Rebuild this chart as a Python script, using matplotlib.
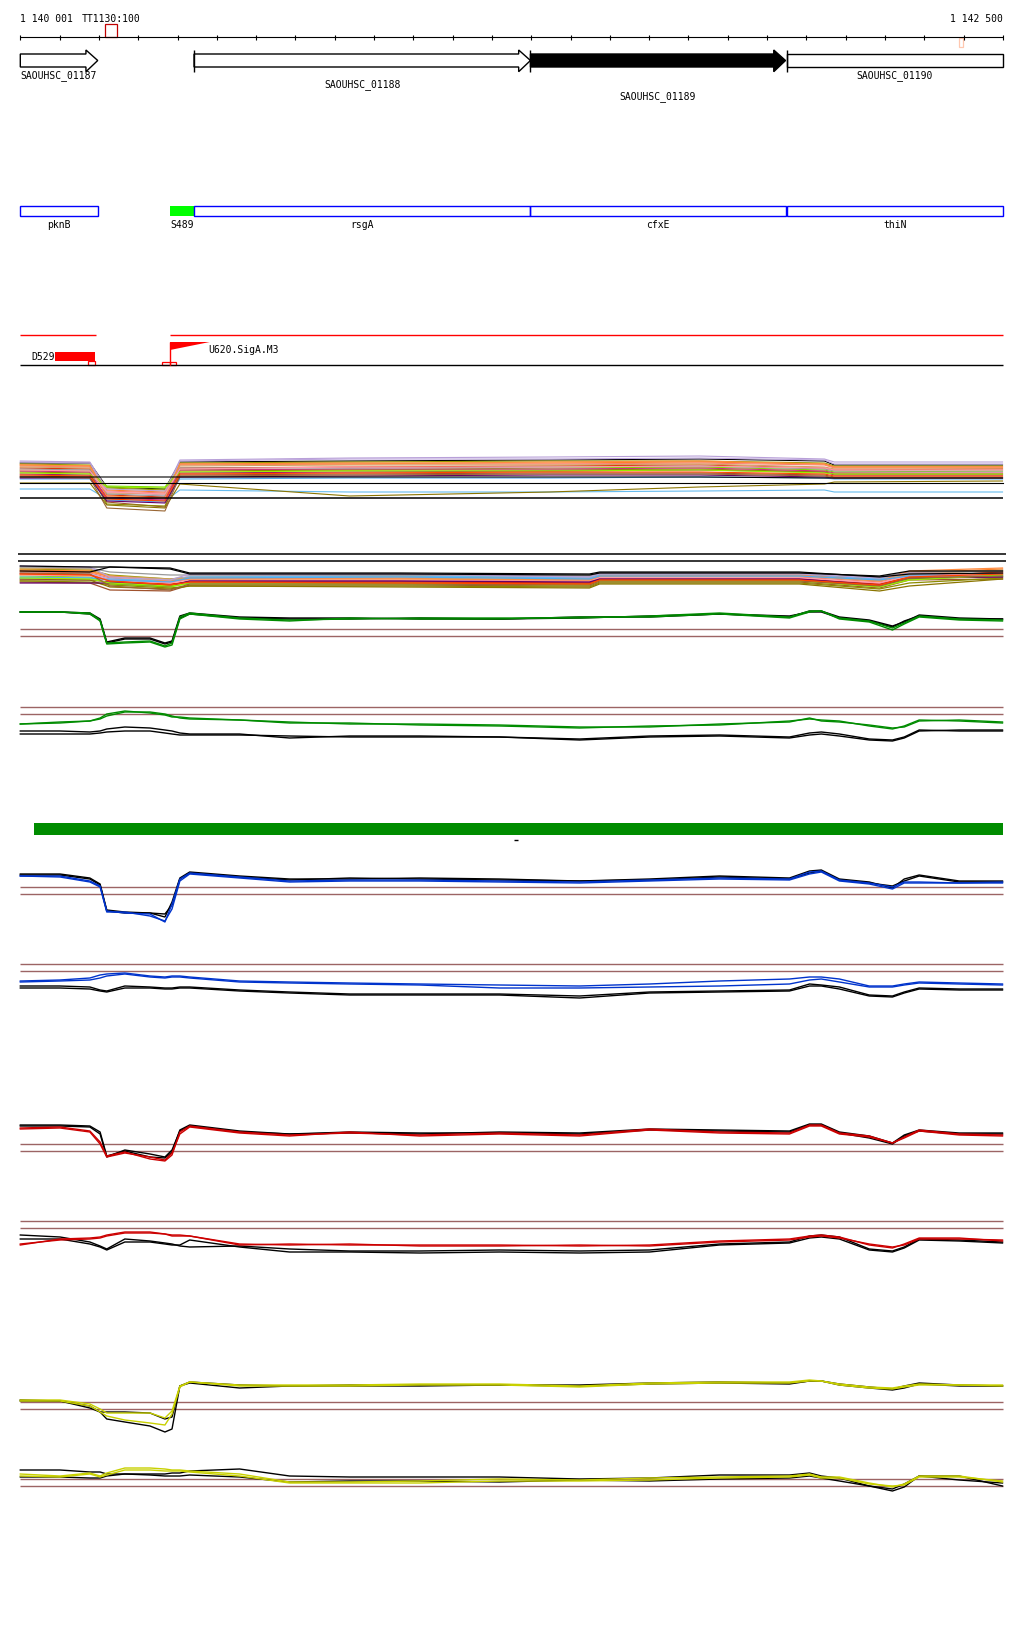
import numpy as np
import matplotlib
matplotlib.use("Agg")
import matplotlib.pyplot as plt
from matplotlib.patches import Polygon, Rectangle

# ---- region shown -------------------------------------------------------
view_start, view_end = 1140001, 1142500
tick_step = 100

# ---- genes (top track) --------------------------------------------------
gene_names = ["SAOUHSC_01187", "SAOUHSC_01188", "SAOUHSC_01189", "SAOUHSC_01190"]
gene_starts = [1140001, 1140443, 1141299, 1141952]
gene_ends = [1140198, 1141299, 1141948, 1142500]
gene_arrow = [True, True, True, False]

# ---- annotated features -------------------------------------------------
feat_names = ["pknB", "S489", "rsgA", "cfxE", "thiN"]
feat_starts = [1140001, 1140382, 1140443, 1141299, 1141952]
feat_ends = [1140198, 1140443, 1141299, 1141948, 1142500]

# ---- promoters / terminators --------------------------------------------
red_segments = [(1140001, 1140194), (1140382, 1142500)]
term_name, term_start, term_end = "D529", 1140089, 1140191
prom_name, prom_pos, prom_end = "U620.SigA.M3", 1140382, 1140483
tt_name, tt_marker = "TT1130:100", (1140217, 1140246)
end_marker = (1142389, 1142399)

# ---- many-sample tracks (A, B) -----------------------------------------
a_pos = [1140001, 1140178, 1140221, 1140369, 1140407, 1140839, 1141348, 1141729, 1142047, 1142072, 1142500]
a_vals = [
    [51, 51, 27, 25, 52, 53, 54, 55, 53, 49, 49],
    [50, 49, 26, 24, 51, 52, 53, 53, 51, 48, 48],
    [49, 48, 24, 22, 50, 51, 51, 52, 50, 47, 47],
    [48, 47, 23, 21, 49, 50, 50, 51, 49, 46, 46],
    [52, 51, 22, 19, 53, 55, 55, 56, 54, 50, 50],
    [40, 39, 17, 15, 41, 42, 43, 44, 42, 39, 39],
    [44, 43, 28, 27, 45, 44, 46, 47, 44, 42, 43],
    [38, 37, 12, 7, 39, 40, 41, 41, 39, 37, 37],
    [25, 25, 15, 13, 24, 22, 22, 23, 24, 22, 22],
    [46, 45, 19, 17, 46, 47, 48, 49, 46, 44, 45],
    [47, 46, 21, 20, 48, 49, 49, 50, 47, 45, 45],
    [42, 41, 10, 8, 43, 44, 44, 45, 42, 40, 40],
    [43, 42, 16, 14, 44, 45, 45, 46, 43, 41, 41],
    [45, 44, 20, 18, 46, 46, 47, 48, 45, 43, 43],
    [49, 48, 18, 16, 50, 50, 52, 53, 50, 47, 47],
    [35, 35, 14, 12, 35, 36, 36, 37, 36, 35, 35],
    [31, 31, 9, 6, 30, 18, 22, 27, 30, 32, 33],
    [53, 52, 25, 23, 54, 56, 57, 58, 55, 52, 52],
    [36, 36, 13, 11, 37, 38, 39, 39, 37, 36, 36],
    [41, 40, 27, 26, 42, 43, 43, 44, 41, 40, 40],
    [37, 36, 6, 3, 38, 39, 40, 40, 38, 36, 36],
    [39, 38, 15, 13, 40, 41, 42, 42, 40, 38, 38],
    [44, 43, 22, 20, 45, 47, 47, 48, 46, 44, 44],
    [37, 37, 37, 37, 37, 37, 37, 37, 36, 36, 36],
    [31, 31, 31, 31, 31, 31, 31, 31, 31, 31, 31],
]
a_baseline = 15.7

b_pos = [1140001, 1140178, 1140229, 1140382, 1140432, 1140966, 1141449, 1141475, 1141983, 1142187, 1142263, 1142500]
b_vals = [
    [30, 29, 24, 20, 22, 23, 21, 25, 25, 20, 27, 28],
    [29, 28, 22, 19, 21, 22, 20, 24, 24, 19, 26, 30],
    [27, 26, 21, 17, 20, 21, 18, 22, 22, 17, 24, 26],
    [26, 25, 20, 18, 23, 24, 22, 26, 26, 21, 25, 24],
    [20, 19, 17, 14, 18, 18, 16, 20, 20, 15, 22, 22],
    [23, 22, 15, 12, 16, 16, 15, 19, 19, 13, 20, 23],
    [17, 16, 9, 8, 14, 14, 13, 17, 17, 11, 19, 20],
    [22, 21, 20, 18, 22, 23, 21, 24, 24, 20, 24, 25],
    [25, 24, 18, 15, 17, 17, 16, 20, 20, 15, 22, 27],
    [31, 30, 23, 20, 21, 21, 19, 23, 23, 18, 25, 29],
    [18, 17, 14, 11, 13, 13, 12, 16, 16, 10, 16, 21],
    [24, 23, 19, 16, 19, 19, 18, 21, 21, 16, 23, 26],
    [32, 31, 27, 24, 24, 24, 23, 26, 26, 22, 27, 28],
    [28, 27, 23, 18, 20, 20, 19, 23, 24, 18, 28, 31],
    [21, 21, 19, 17, 21, 22, 20, 23, 23, 19, 23, 23],
    [19, 19, 12, 10, 13, 12, 11, 15, 15, 8, 13, 20],
    [33, 32, 22, 19, 25, 25, 22, 25, 25, 21, 26, 25],
    [16, 16, 16, 13, 18, 18, 17, 20, 20, 14, 21, 22],
    [21, 20, 16, 13, 15, 15, 14, 18, 18, 12, 19, 24],
    [26, 25, 13, 9, 15, 15, 14, 18, 18, 13, 21, 23],
    [25, 24, 18, 14, 17, 16, 15, 19, 19, 14, 22, 25],
    [33, 32, 32, 30, 25, 25, 24, 26, 26, 23, 28, 28],
    [28, 27, 32, 31, 26, 26, 25, 27, 27, 22, 25, 26],
]
b_refs = [45, 37.7]

# ---- replicate tracks (C..J), sampled at pos ----------------------------
pos = [1140001, 1140102, 1140178, 1140204, 1140221, 1140267, 1140331, 1140369, 1140387, 1140407,
       1140432, 1140559, 1140686, 1140839, 1141017, 1141220, 1141424, 1141602, 1141780, 1141958,
       1142009, 1142039, 1142085, 1142161, 1142220, 1142250, 1142288, 1142390, 1142500]

c_green1 = [37, 37, 36, 29, 6, 7, 8, 3, 6, 32, 36, 31, 29, 30, 31, 31, 31, 33, 36, 32, 38, 38, 31, 28, 21, 26, 33, 30, 29]
c_green2 = [37, 37, 35, 28, 5, 6, 7, 2, 4, 30, 35, 30, 28, 31, 30, 30, 32, 32, 35, 31, 37, 38, 30, 27, 19, 25, 32, 29, 28]
c_black1 = [37, 37, 36, 30, 7, 11, 11, 6, 8, 33, 36, 32, 31, 31, 30, 30, 31, 33, 35, 32, 38, 38, 32, 29, 23, 27, 34, 31, 30]
c_black2 = [37, 37, 35, 29, 6, 10, 10, 5, 7, 31, 35, 31, 30, 30, 31, 30, 32, 32, 35, 33, 37, 37, 31, 28, 22, 28, 33, 30, 30]

d_green1 = [25, 27, 28, 31, 35, 38, 36, 34, 32, 32, 31, 29, 26, 26, 24, 23, 21, 23, 24, 28, 30, 29, 28, 23, 20, 23, 29, 28, 26]
d_green2 = [25, 26, 28, 30, 33, 37, 37, 35, 33, 31, 30, 29, 27, 25, 25, 24, 22, 22, 25, 27, 31, 28, 27, 24, 21, 22, 28, 29, 27]
d_black1 = [18, 18, 17, 18, 20, 22, 21, 19, 18, 16, 15, 15, 11, 13, 13, 12, 10, 13, 14, 12, 16, 17, 15, 10, 9, 12, 19, 18, 18]
d_black2 = [15, 15, 15, 16, 17, 18, 18, 16, 15, 14, 14, 14, 13, 12, 12, 12, 9, 12, 13, 11, 14, 15, 13, 9, 8, 11, 18, 19, 19]

e_blue1 = [53, 53, 48, 43, 18, 16, 15, 7, 25, 50, 56, 52, 48, 49, 49, 48, 47, 49, 51, 50, 57, 58, 49, 46, 42, 47, 47, 46, 47]
e_blue2 = [53, 52, 47, 42, 17, 17, 13, 8, 20, 48, 55, 51, 47, 48, 48, 47, 46, 48, 50, 49, 55, 57, 48, 45, 40, 46, 46, 46, 46]
e_black1 = [55, 55, 51, 45, 19, 17, 16, 12, 27, 51, 57, 53, 50, 50, 51, 50, 48, 50, 53, 51, 58, 59, 50, 47, 41, 50, 54, 48, 48]
e_black2 = [54, 54, 50, 44, 18, 16, 16, 15, 24, 50, 56, 52, 49, 51, 50, 49, 48, 49, 52, 50, 56, 58, 49, 46, 43, 48, 53, 47, 47]

f_blue1 = [28, 29, 31, 34, 35, 36, 33, 32, 33, 33, 32, 28, 27, 26, 25, 24, 23, 25, 28, 30, 32, 32, 30, 23, 23, 25, 27, 26, 25]
f_blue2 = [27, 28, 29, 31, 33, 35, 32, 31, 32, 32, 31, 27, 26, 25, 24, 21, 21, 22, 23, 25, 29, 30, 27, 22, 22, 24, 26, 25, 24]
f_black1 = [23, 23, 22, 19, 18, 23, 22, 21, 21, 22, 22, 19, 17, 15, 15, 15, 13, 17, 18, 19, 25, 24, 22, 14, 13, 17, 21, 20, 20]
f_black2 = [21, 21, 20, 18, 17, 21, 21, 20, 20, 21, 21, 18, 16, 14, 14, 14, 11, 16, 17, 18, 23, 23, 20, 13, 12, 16, 20, 19, 19]

g_red1 = [46, 47, 43, 32, 18, 22, 15, 13, 19, 42, 48, 42, 39, 41, 39, 41, 39, 45, 42, 41, 49, 49, 41, 38, 31, 37, 44, 40, 39]
g_red2 = [45, 46, 42, 30, 17, 21, 17, 14, 21, 40, 47, 41, 38, 42, 38, 40, 38, 44, 41, 40, 48, 48, 40, 37, 31, 36, 43, 39, 38]
g_black1 = [49, 49, 48, 42, 18, 23, 17, 16, 22, 44, 49, 43, 40, 41, 40, 42, 41, 45, 44, 43, 50, 50, 42, 38, 31, 39, 44, 41, 41]
g_black2 = [48, 48, 47, 40, 17, 24, 20, 17, 24, 43, 48, 42, 40, 42, 41, 41, 40, 44, 43, 42, 49, 49, 41, 36, 30, 38, 43, 40, 40]

h_red1 = [19, 25, 26, 27, 29, 32, 32, 30, 29, 29, 28, 19, 20, 19, 19, 19, 18, 19, 23, 25, 28, 29, 27, 19, 16, 20, 26, 26, 23]
h_red2 = [20, 24, 25, 26, 28, 31, 31, 30, 28, 28, 28, 20, 19, 20, 18, 18, 19, 18, 22, 24, 27, 28, 26, 20, 17, 19, 25, 25, 24]
h_black1 = [29, 27, 22, 18, 15, 25, 23, 21, 20, 18, 17, 18, 15, 13, 13, 14, 13, 14, 20, 22, 28, 29, 27, 15, 13, 17, 25, 24, 22]
h_black2 = [25, 25, 20, 17, 14, 22, 22, 20, 19, 19, 24, 17, 12, 12, 11, 12, 11, 12, 19, 21, 26, 27, 25, 14, 12, 16, 24, 23, 21]

i_yel1 = [44, 44, 40, 35, 31, 31, 31, 26, 33, 58, 62, 59, 59, 59, 60, 60, 58, 61, 62, 62, 64, 63, 60, 57, 56, 58, 60, 59, 59]
i_yel2 = [43, 43, 38, 32, 28, 24, 21, 19, 30, 57, 62, 58, 58, 58, 59, 59, 57, 60, 61, 61, 63, 63, 59, 56, 55, 57, 59, 59, 58]
i_black1 = [43, 43, 38, 32, 25, 22, 18, 12, 15, 58, 61, 56, 58, 58, 58, 59, 58, 60, 61, 60, 63, 63, 59, 56, 54, 56, 60, 58, 58]
i_black2 = [44, 43, 36, 32, 32, 32, 31, 25, 27, 58, 62, 59, 58, 59, 59, 59, 59, 61, 62, 61, 63, 63, 60, 57, 55, 58, 61, 59, 58]

j_black1 = [29, 29, 27, 27, 25, 25, 25, 25, 26, 26, 28, 30, 23, 22, 22, 22, 20, 21, 24, 24, 26, 23, 21, 13, 8, 12, 23, 23, 13]
j_black2 = [22, 22, 21, 21, 23, 25, 24, 23, 23, 23, 24, 22, 17, 18, 18, 17, 19, 18, 20, 21, 23, 21, 18, 13, 10, 15, 23, 19, 16]
j_yel1 = [25, 23, 26, 23, 26, 31, 31, 30, 29, 29, 28, 25, 17, 17, 18, 20, 19, 21, 22, 23, 25, 22, 22, 16, 12, 15, 23, 23, 17]
j_yel2 = [23, 22, 25, 22, 24, 29, 29, 28, 28, 28, 27, 23, 16, 16, 16, 18, 18, 19, 21, 22, 24, 21, 21, 15, 13, 14, 22, 22, 18]

# reference levels (two thresholds per track)
c_refs = [19.7, 12.7]
d_refs = [41.7, 34.7]
e_refs = [41.7, 34.7]
f_refs = [44.7, 37.7]
g_refs = [30, 22.7]
h_refs = [42.7, 35.7]
i_refs = [41.7, 34.7]
j_refs = [20, 12.7]

# clone/coverage bar
bar_start, bar_end = 1140035, 1142502
dash = (1141257, 1141267)

# ---- styles -------------------------------------------------------------
a_colors = ["#000000", "#9a9a00", "#ff7f27", "#fa8072", "#c0a8e0", "#a0106a", "#7ce000", "#a0522d",
            "#66bbee", "#e03000", "#d2a060", "#8b8b00", "#cc3377", "#999999", "#ff8c40", "#55aaee",
            "#8b7500", "#b8a0d8", "#660066", "#99ee00", "#996633", "#ff4500", "#ff99aa", "#000000", "#000000"]
b_colors = ["#9a9a00", "#ff7f27", "#fa8072", "#c0a8e0", "#a0106a", "#7ce000", "#a0522d", "#66bbee",
            "#e03000", "#d2a060", "#8b8b00", "#ff99aa", "#999999", "#ff8c40", "#55aaee", "#8b7500",
            "#b8a0d8", "#660066", "#99ee00", "#996633", "#ff4500", "#000000", "#000000"]
ref_color = "#9c6464"
green, blue, red, yellow = "#008c00", "#0033cc", "#cc0000", "#c8d000"
mono = dict(family="DejaVu Sans Mono", fontsize=7)

W, H = 1024, 1640
fig = plt.figure(figsize=(W / 100, H / 100), dpi=100)
fig.patch.set_facecolor("white")

px_l, px_r = 20.3, 1002.5
scale = (px_r - px_l) / (view_end - view_start)
xlim = (view_start - px_l / scale, view_start + (W - px_l) / scale)

ax = fig.add_axes([0, 0, 1, 1])
ax.set_xlim(*xlim)
ax.set_ylim(H, 0)
ax.axis("off")

# ruler
ticks = list(range(view_start, view_end, tick_step)) + [view_end]
ax.hlines(38.3, view_start, view_end, color="k", lw=0.8)
ax.vlines(ticks, 36, 41, color="k", lw=0.8)
ax.text(view_start, 19, "1 140 001", ha="left", va="center", **mono)
ax.text(view_end, 19, "1 142 500", ha="right", va="center", **mono)
ax.text((tt_marker[0] + tt_marker[1]) / 2, 19, tt_name, ha="center", va="center", **mono)
ax.add_patch(Rectangle((tt_marker[0], 25.3), tt_marker[1] - tt_marker[0], 13,
                       fill=False, ec="#c00000", lw=0.9))
ax.add_patch(Rectangle((end_marker[0], 38.5), end_marker[1] - end_marker[0], 9,
                       fill=False, ec="#ffc8b0", lw=0.9))

# genes
head = 30
label_rows = [76, 85, 97, 76]
for name, s, e, arr, row in zip(gene_names, gene_starts, gene_ends, gene_arrow, label_rows):
    fc = "black" if name.endswith("01189") else "white"
    if arr:
        pts = [(s, 55), (e - head, 55), (e - head, 51), (e, 61.5), (e - head, 72.7), (e - head, 68), (s, 68)]
    else:
        pts = [(s, 55), (e, 55), (e, 68), (s, 68)]
    ax.add_patch(Polygon(pts, closed=True, fc=fc, ec="black", lw=1.0))
    ax.text((s + e) / 2, row, name, ha="center", va="center", **mono)
ax.vlines(gene_starts[1:], 51, 72.7, color="k", lw=1.0)

# features
for name, s, e in zip(feat_names, feat_starts, feat_ends):
    if name == "S489":
        ax.add_patch(Rectangle((s, 207), e - s, 10.3, fc="#00ff00", ec="none"))
    else:
        ax.add_patch(Rectangle((s, 207), e - s, 10.3, fill=False, ec="#0000ff", lw=1.0))
    ax.text((s + e) / 2, 224.5, name, ha="center", va="center", **mono)

# promoters / terminators
for s, e in red_segments:
    ax.hlines(336, s, e, color="red", lw=1.0)
ax.hlines(366, view_start, view_end, color="k", lw=1.0)
ax.add_patch(Rectangle((term_start, 353), term_end - term_start, 8.7, fc="red", ec="none"))
ax.text(term_start, 357, term_name, ha="right", va="center", **mono)
ax.add_patch(Rectangle((term_end - 19, 362.3), 19, 3.7, fill=False, ec="red", lw=0.9))
ax.vlines(prom_pos, 343, 366, color="red", lw=1.0)
ax.add_patch(Polygon([(prom_pos, 343), (prom_end, 343), (prom_pos, 351)], closed=True, fc="red", ec="none"))
ax.text(prom_end - 3, 350, prom_name, ha="left", va="center", **mono)
ax.add_patch(Rectangle((prom_pos - 20, 362.5), 35, 3.5, fill=False, ec="red", lw=0.9))
ax.vlines(prom_pos, 362.5, 366, color="red", lw=0.9)

# coverage bar
ax.add_patch(Rectangle((bar_start, 824), bar_end - bar_start, 11.7, fc=green, ec="none"))
ax.hlines(840.5, dash[0], dash[1], color="k", lw=1.0)


def track_axes(top, bottom):
    a = fig.add_axes([0, 1 - bottom / H, 1, (bottom - top) / H])
    a.set_xlim(*xlim)
    a.set_ylim(0, bottom - top)
    a.axis("off")
    a.patch.set_alpha(0)
    return a


# track A
ta = track_axes(450, 515)
for vals, col in zip(a_vals, a_colors):
    ta.plot(a_pos, vals, color=col, lw=0.8, clip_on=False)
ta.hlines(a_baseline, view_start, view_end, color="k", lw=1.1)

# track B
tb = track_axes(548, 600)
tb.hlines(b_refs, 1139995, 1142508, color="k", lw=1.1)
for vals, col in zip(b_vals, b_colors):
    tb.plot(b_pos, vals, color=col, lw=0.9, clip_on=False)

# replicate tracks
tracks = [
    ((600, 650), c_refs, [(c_black1, "k"), (c_black2, "k"), (c_green1, green), (c_green2, green)]),
    ((690, 750), d_refs, [(d_black1, "k"), (d_black2, "k"), (d_green1, green), (d_green2, green)]),
    ((860, 930), e_refs, [(e_black1, "k"), (e_black2, "k"), (e_blue1, blue), (e_blue2, blue)]),
    ((955, 1010), f_refs, [(f_black1, "k"), (f_black2, "k"), (f_blue1, blue), (f_blue2, blue)]),
    ((1110, 1175), g_refs, [(g_black1, "k"), (g_black2, "k"), (g_red1, red), (g_red2, red)]),
    ((1205, 1265), h_refs, [(h_black1, "k"), (h_black2, "k"), (h_red1, red), (h_red2, red)]),
    ((1370, 1445), i_refs, [(i_black1, "k"), (i_black2, "k"), (i_yel1, yellow), (i_yel2, yellow)]),
    ((1455, 1500), j_refs, [(j_black1, "k"), (j_black2, "k"), (j_yel1, yellow), (j_yel2, yellow)]),
]
for (top, bottom), refs, series in tracks:
    t = track_axes(top, bottom)
    t.hlines(refs, view_start, view_end, color=ref_color, lw=1.0)
    for vals, col in series:
        t.plot(pos, vals, color=col, lw=1.0, clip_on=False)

fig.savefig("out.png", dpi=100, facecolor="white")
